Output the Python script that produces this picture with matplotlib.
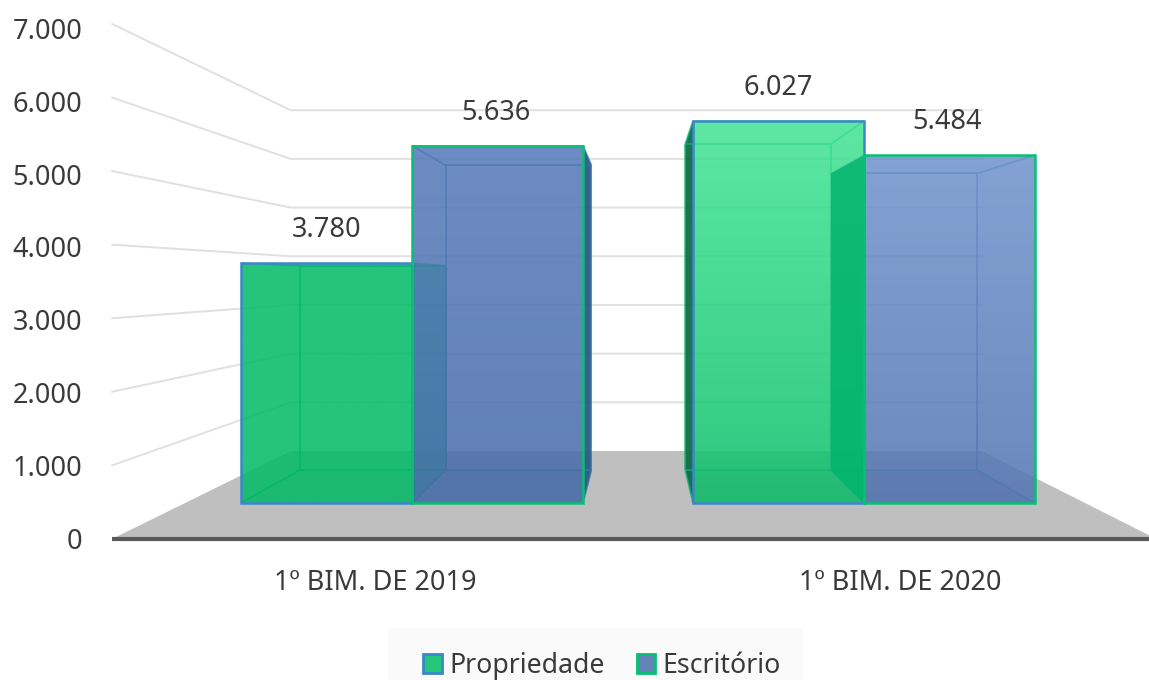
import matplotlib
matplotlib.use("Agg")
import matplotlib.pyplot as plt
import numpy as np
from matplotlib.patches import Patch, Polygon, Rectangle

categories = ["1º BIM. DE 2019", "1º BIM. DE 2020"]
propriedade = [3780, 6027]
escritorio = [5636, 5484]
value_labels = [["3.780", "6.027"], ["5.636", "5.484"]]
tick_values = [0, 1000, 2000, 3000, 4000, 5000, 6000, 7000]
tick_labels = ["0", "1.000", "2.000", "3.000", "4.000", "5.000", "6.000", "7.000"]

plt.rcParams["font.family"] = ["Noto Sans", "DejaVu Sans"]
TEXT = "#3a3a3a"

# scene scale: one category step is 452 px, 1000 units are 63.4 px on the bars' front plane
PX_X = 452.0
PX_Y = 0.0634
X0_PX = 412.0
Y0_PX = 503.0
BAR_W = 171.0 / PX_X

# perspective: everything shrinks towards this point with depth factor k
XC = (640.0 - X0_PX) / PX_X
VC = (Y0_PX - 279.0) / PX_Y
K_AXIS = 1.16
K_FRONT = 1.0
K_BACK = 0.853
K_WALL = 0.768
FLOOR_L = -0.502
FLOOR_R = 1.489


def proj(x, v, k):
    return XC + (x - XC) * k, VC + (v - VC) * k


def rgb(c):
    return tuple(n / 255 for n in c)


def face(ax, corners, color, alpha, z):
    ax.add_patch(Polygon(corners, closed=True, facecolor=rgb(color), alpha=alpha, edgecolor="none", zorder=z))


def gradient_rect(ax, x0, x1, v, top, bottom, alpha, z):
    t = np.linspace(0, 1, 128)[:, None, None]
    top, bottom = np.array(rgb(top)), np.array(rgb(bottom))
    img = bottom[None, None, :] * (1 - t) + top[None, None, :] * t
    rgba = np.concatenate([img, np.full((128, 1, 1), alpha)], axis=2)
    ax.imshow(rgba, extent=(x0, x1, 0, v), origin="lower", aspect="auto", zorder=z, interpolation="bilinear")


def draw_bar(ax, x0, x1, v, rear, dark, floor_c, front_top, front_bottom, edge, inner, shaded=None, tint_left=None):
    fl = proj(x0, 0, K_FRONT)
    fr = proj(x1, 0, K_FRONT)
    ftl = proj(x0, v, K_FRONT)
    ftr = proj(x1, v, K_FRONT)
    bl = proj(x0, 0, K_BACK)
    br = proj(x1, 0, K_BACK)
    btl = proj(x0, v, K_BACK)
    btr = proj(x1, v, K_BACK)
    face(ax, [bl, br, btr, btl], rear, 0.5, 3)
    face(ax, [fl, fr, br, bl], floor_c, 0.5, 3)
    face(ax, [ftl, ftr, btr, btl], rear, 0.5, 3)
    # a side face sticking out of the front rectangle is drawn dark
    face(ax, [fl, bl, btl, ftl], dark if shaded == "left" else rear, 0.9 if shaded == "left" else 0.5, 3)
    face(ax, [fr, br, btr, ftr], dark if shaded == "right" else rear, 0.9 if shaded == "right" else 0.5, 3)
    for a, b in [(bl, br), (br, btr), (btr, btl), (btl, bl), (fl, bl), (fr, br), (ftl, btl), (ftr, btr)]:
        ax.plot([a[0], b[0]], [a[1], b[1]], color=inner, lw=1.3, alpha=0.75, zorder=4, solid_capstyle="butt")
    gradient_rect(ax, x0, x1, v, front_top, front_bottom, 0.72, 5)
    if tint_left is not None:
        # the neighbour's front colour wins where this side face lies behind it
        face(ax, [fl, bl, btl, ftl], tint_left, 0.8, 5.5)
    ax.bar((x0 + x1) / 2, v, x1 - x0, facecolor="none", edgecolor=edge, linewidth=1.8, zorder=6)


fig = plt.figure(figsize=(11.49, 6.8), dpi=100)
ax = fig.add_axes([0, 0, 1, 1])

# floor and walls
floor = [proj(FLOOR_L, 0, K_AXIS), proj(FLOOR_R, 0, K_AXIS), proj(FLOOR_R, 0, K_WALL), proj(FLOOR_L, 0, K_WALL)]
ax.add_patch(Polygon(floor, closed=True, facecolor="#bfbfbf", edgecolor="none", zorder=1))
for v in tick_values[1:]:
    a = proj(FLOOR_L, v, K_AXIS)
    b = proj(FLOOR_L, v, K_WALL)
    c = proj(FLOOR_R, v, K_WALL)
    ax.plot([a[0], b[0], c[0]], [a[1], b[1], c[1]], color="#e0e0e0", lw=1.4, zorder=2)
a = proj(FLOOR_L, 0, K_AXIS)
b = proj(FLOOR_R, 0, K_AXIS)
ax.plot([a[0], b[0]], [a[1], b[1]], color="#595959", lw=3, zorder=7, solid_capstyle="butt")

BLUE_EDGE = "#3b87c9"
GREEN_EDGE = "#07c173"

draw_bar(ax, -BAR_W, 0, propriedade[0], (2, 187, 102), (0, 150, 90), (0, 170, 95),
         (2, 187, 102), (2, 187, 102), BLUE_EDGE, "#06a86e")
draw_bar(ax, 0, BAR_W, escritorio[0], (74, 113, 177), (50, 85, 135), (55, 90, 150),
         (86, 123, 187), (70, 108, 168), GREEN_EDGE, "#2f78a2", shaded="right")
draw_bar(ax, 1 - BAR_W, 1, propriedade[1], (20, 200, 115), (15, 105, 70), (10, 170, 95),
         (76, 234, 155), (10, 190, 104), BLUE_EDGE, "#0fb47a", shaded="left")
draw_bar(ax, 1, 1 + BAR_W, escritorio[1], (90, 125, 185), (90, 125, 185), (60, 95, 155),
         (116, 151, 209), (82, 116, 178), GREEN_EDGE, "#3a84ad", tint_left=(0, 182, 105))

# value labels sit a fixed distance above the front top edge
for i in range(2):
    ax.annotate(value_labels[0][i], (i - BAR_W / 2, propriedade[i]), xytext=(0, 33), textcoords="offset pixels",
                ha="center", va="center", fontsize=19.5, color=TEXT, zorder=8)
    ax.annotate(value_labels[1][i], (i + BAR_W / 2, escritorio[i]), xytext=(-2, 33), textcoords="offset pixels",
                ha="center", va="center", fontsize=19.5, color=TEXT, zorder=8)

# tick labels
for v, lab in zip(tick_values, tick_labels):
    ax.annotate(lab, proj(FLOOR_L, v, K_AXIS), xytext=(-30, -3 - v * 0.0007), textcoords="offset pixels",
                ha="right", va="center", fontsize=19.5, color=TEXT, zorder=8)
for i, cat in enumerate(categories):
    ax.annotate(cat, proj(i, 0, K_AXIS), xytext=(0, -44), textcoords="offset pixels",
                ha="center", va="center", fontsize=19.5, color=TEXT, zorder=8)

ax.set_xlim(-X0_PX / PX_X, (1149 - X0_PX) / PX_X)
ax.set_ylim((Y0_PX - 680) / PX_Y, Y0_PX / PX_Y)
ax.axis("off")

fig.add_artist(Rectangle((388 / 1149, 0), 415 / 1149, 52 / 680, transform=fig.transFigure,
                         facecolor="#fafafa", edgecolor="none", zorder=0))
handles = [
    Patch(facecolor="#26c57c", edgecolor=BLUE_EDGE, linewidth=2, label="Propriedade"),
    Patch(facecolor="#6484b8", edgecolor=GREEN_EDGE, linewidth=2, label="Escritório"),
]
leg = fig.legend(handles=handles, loc="center", bbox_to_anchor=(602 / 1149, 1 - 666 / 680), ncol=2,
                 fontsize=19.2, frameon=False, handlelength=0.7, handleheight=0.7, handletextpad=0.28,
                 columnspacing=1.2, borderpad=0, labelcolor=TEXT, borderaxespad=0)

fig.savefig("out.png", dpi=100)
plt.close(fig)
